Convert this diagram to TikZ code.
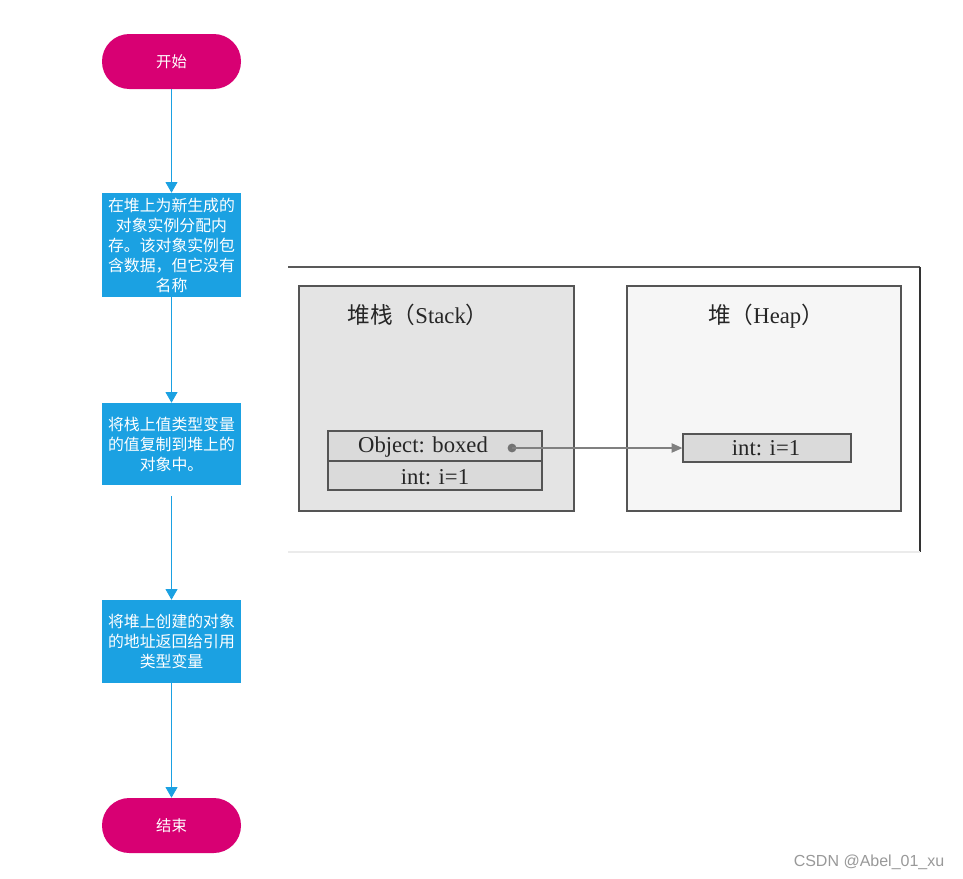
\documentclass[tikz,border=0pt]{standalone}
\usepackage{fontspec}
\setmainfont{Liberation Serif}
\newfontfamily\cjk{Noto Sans CJK SC}
\newfontfamily\wmfont{Liberation Sans}
\usetikzlibrary{arrows.meta}
\definecolor{pinkc}{HTML}{D80073}
\definecolor{bluec}{HTML}{1BA1E2}
\definecolor{stackfill}{HTML}{E4E4E4}
\definecolor{heapfill}{HTML}{F6F6F6}
\definecolor{cellfill}{HTML}{DADADA}
\definecolor{framec}{HTML}{555555}
\begin{document}
\begin{tikzpicture}[x=0.75pt,y=-0.75pt,
  pill/.style={draw=none,fill=pinkc,rounded corners=20.5pt,minimum width=104.25pt,minimum height=41.25pt,text=white,font=\cjk\fontsize{11.5}{14}\selectfont,inner sep=0pt},
  stepbox/.style={draw=none,fill=bluec,minimum width=104.25pt,text width=102pt,align=center,text=white,font=\cjk\fontsize{11.9}{15}\selectfont,inner sep=0pt},
  flow/.style={draw=bluec,line width=0.6pt,-{Triangle[width=9pt,length=8pt]}},
  region/.style={draw=framec,line width=1.3pt},
  cell/.style={draw=framec,line width=1pt,fill=cellfill},
  serif/.style={font=\fontsize{17}{20}\selectfont,text=black!85}
]
\useasboundingbox (0,0) rectangle (963,878);
\fill[white] (0,0) rectangle (963,878);

% flowchart
\node[pill] (start) at (171.5,61.5) {开始};
\node[stepbox,minimum height=78pt] (b1) at (171.5,245) {在堆上为新生成的\\对象实例分配内\\存。该对象实例包\\含数据，但它没有\\名称};
\node[stepbox,minimum height=61.5pt] (b2) at (171.5,444) {将栈上值类型变量\\的值复制到堆上的\\对象中。};
\node[stepbox,minimum height=62.25pt] (b3) at (171.5,641.5) {将堆上创建的对象\\的地址返回给引用\\类型变量};
\node[pill] (end) at (171.5,825.5) {结束};

\draw[flow] (start) -- (b1);
\draw[flow] (b1) -- (b2);
\draw[flow,shorten <=8.25pt] (b2) -- (b3);
\draw[flow] (b3) -- (end);

% embedded figure frame
\coordinate (ftl) at (288,267);
\coordinate (ftr) at (920,267);
\coordinate (fbr) at (920,552);
\coordinate (fbl) at (288,552);
\draw[draw=black!65,line width=1pt] (ftl) -- (ftr);
\draw[draw=black!80,line width=1.3pt] (ftr) -- (fbr);
\draw[draw=black!8,line width=0.8pt] (fbl) -- (fbr);

% stack and heap regions
\draw[region,fill=stackfill] (299,286) rectangle (574,511);
\draw[region,fill=heapfill] (627,286) rectangle (901,511);
\node[serif] (stacklbl) at (418,315) {{\cjk 堆栈（}Stack{\cjk ）}};
\node[serif] (heaplbl) at (766,316) {{\cjk 堆（}Heap{\cjk ）}};

% stack cells
\node[cell,minimum width=160.5pt,minimum height=22.5pt,inner sep=0pt] (objcell) at (435,446) {};
\node[cell,minimum width=160.5pt,minimum height=21.75pt,inner sep=0pt] (intcell) at (435,475.5) {};
\node[serif,anchor=center] (objtxt) at (423,447) {Object: boxed};
\node[serif] (inttxt) at (435,477) {int: i=1};
\fill[black!55] (512,448) circle (3.3pt);
\coordinate (dot) at (512,448);

% heap cell
\node[cell,minimum width=126pt,minimum height=21pt,inner sep=0pt] (heapcell) at (767,448) {};
\node[serif] (heaptxt) at (766,448) {int: i=1};

\draw[draw=black!50,line width=0.8pt,-{Triangle[width=7pt,length=8pt,fill=black!50]}] (dot) -- (heapcell.west);

% watermark
\node[font=\wmfont\fontsize{12}{14}\selectfont,text=black!40,anchor=east] (wm) at (949,862) {CSDN @Abel\_01\_xu};
\end{tikzpicture}
\end{document}
